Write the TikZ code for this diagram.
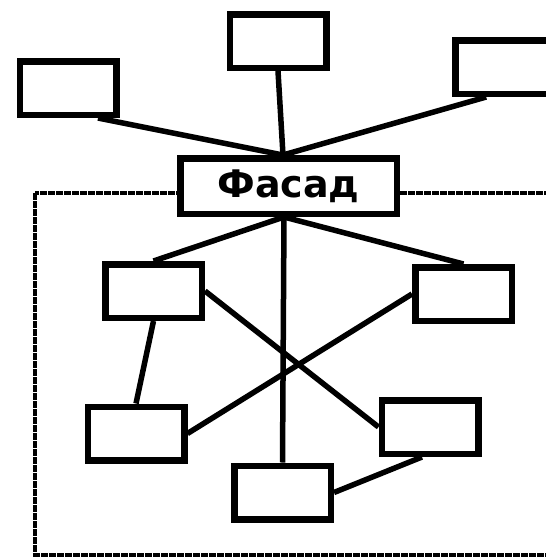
\documentclass[tikz,border=0pt]{standalone}
\usepackage{fontspec}
\newfontfamily\facadefont{DejaVu Sans}
\usepackage{tikz}

\begin{document}
\begin{tikzpicture}[x=1pt, y=-1pt,
        blk/.style={draw, line width=6.5pt, minimum width=96.5pt, minimum height=53.5pt, inner sep=0pt},
        link/.style={line width=5.5pt},
        fence/.style={line width=3.2pt, dash pattern=on 7pt off 1pt}]
        \useasboundingbox (0, 0) rectangle (546, 558);
        \draw[fence] (35, 193) rectangle (575, 555);
        \path (68, 88) node[blk](tl) {} (278, 41) node[blk](tc) {} (503.5, 67) node[blk](tr) {}
            (288.5, 186) node[blk, fill=white, minimum width=216.5pt, minimum height=55.5pt](facade) {\facadefont\bfseries\fontsize{38}{40}\selectfont Фасад}
            (153.5, 291) node[blk](a) {} (136, 433.5) node[blk](b) {} (463.5, 294) node[blk](c) {}
            (430, 427) node[blk](d) {} (282.5, 492.5) node[blk](e) {};
        \coordinate (ft) at (283, 155);
        \coordinate (fb) at (284, 217);
        \draw[link] (tl.-45) -- (ft);
        \draw[link] (tc.south) -- (ft);
        \draw[link] (tr.-120) -- (ft);
        \draw[link] (fb) -- (a.north);
        \draw[link] (fb) -- (c.north);
        \draw[link] (fb) -- (e.north);
        \draw[link] (a.east) -- (d.west);
        \draw[link] (c.west) -- (b.east);
        \draw[link] (a.south) -- (b.north);
        \draw[link] (e.east) -- (d.-105);
    \end{tikzpicture}
\end{document}
